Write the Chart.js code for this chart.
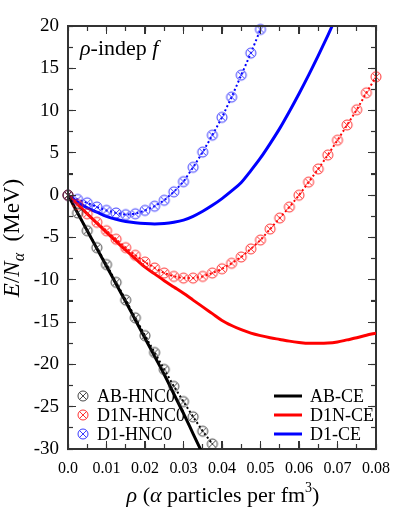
<!DOCTYPE html>
<html><head><meta charset="utf-8">
<script src="https://cdn.jsdelivr.net/npm/chart.js@4"></script>
<style>html,body{margin:0;padding:0;background:#fff;}canvas{display:block}
#wrap{position:relative;width:395px;height:517px}
#overlay{position:absolute;left:0;top:0;width:395px;height:517px;pointer-events:none}
#overlay div{position:absolute;background:#333333}
</style>
</head><body>
<div id="wrap">
<canvas id="c" width="395" height="517"></canvas>
<div id="overlay"></div>
</div>
<script>
// density grid (alpha particles per fm^3)
const rhoGrid = [0,0.0025,0.005,0.0075,0.01,0.0125,0.015,0.0175,0.02,0.0225,0.025,0.0275,0.03,0.0325,0.035,0.0375,0.04,0.0425,0.045,0.0475,0.05,0.0525,0.055,0.0575,0.06,0.0625,0.065,0.0675,0.07,0.0725,0.075,0.0775,0.08];
// HNC0 series (markers + dotted lines)
const abHNC0  = [0,-2.1,-4.2,-6.2,-8.2,-10.3,-12.4,-14.5,-16.6,-18.6,-20.6,-22.6,-24.4,-26.2,-27.9,-29.4];
const d1nHNC0 = [0,-1.1,-2.2,-3.2,-4.2,-5.2,-6.2,-7.1,-7.9,-8.6,-9.2,-9.6,-9.8,-9.8,-9.6,-9.2,-8.7,-8.05,-7.3,-6.35,-5.3,-4.0,-2.7,-1.4,0.0,1.55,3.1,4.75,6.5,8.3,10.1,12.1,14.0];
const d1HNC0  = [0,-0.5,-0.9,-1.4,-1.8,-2.1,-2.3,-2.2,-1.8,-1.3,-0.6,0.4,1.6,3.3,5.1,7.1,9.2,11.6,14.2,16.8,19.6];
// CE series (solid lines)
const abCE  = [0,-2.1,-4.2,-6.3,-8.4,-10.5,-12.6,-14.75,-16.9,-19.05,-21.2,-23.5,-25.8,-28.2,-30.6];
const d1nCE = [0,-1.1,-2.2,-3.3,-4.4,-5.45,-6.5,-7.5,-8.5,-9.3,-10.1,-10.85,-11.6,-12.4,-13.2,-14.0,-14.8,-15.4,-15.9,-16.3,-16.6,-16.85,-17.05,-17.25,-17.4,-17.5,-17.5,-17.48,-17.35,-17.1,-16.85,-16.55,-16.3];
const d1CE  = [0,-0.8,-1.5,-2.0,-2.5,-2.85,-3.1,-3.25,-3.35,-3.4,-3.35,-3.2,-2.95,-2.5,-1.9,-1.2,-0.4,0.5,1.5,2.9,4.4,6.1,7.9,9.9,12.0,14.2,16.5,18.9,21.4];
// tick labels
const xTickLabels = ['0.0','0.01','0.02','0.03','0.04','0.05','0.06','0.07','0.08'];
const yTicks = [-30,-25,-20,-15,-10,-5,0,5,10,15,20];
const yMinorTicks = [-27.5,-22.5,-17.5,-12.5,-7.5,-2.5,2.5,7.5,12.5,17.5];

const SERIF = '"Liberation Serif","Times New Roman",serif';
const AXIS = '#333333';

function makeMarker(color){
  const c = document.createElement('canvas');
  c.width = 14; c.height = 14;
  const g = c.getContext('2d');
  g.strokeStyle = color; g.lineWidth = 1;
  g.beginPath(); g.arc(7,7,5,0,Math.PI*2); g.stroke();
  const d = 3.5;
  g.beginPath(); g.moveTo(7-d,7-d); g.lineTo(7+d,7+d); g.moveTo(7+d,7-d); g.lineTo(7-d,7+d); g.stroke();
  return c;
}
const mkBlack = makeMarker('rgba(40,40,40,0.85)');
const mkRed = makeMarker('rgba(255,30,30,0.9)');
const mkBlue = makeMarker('rgba(40,40,255,0.9)');

const pts = arr => arr.map((v,i)=>({x: rhoGrid[i], y: v}));

const datasets = [
  {label:'AB-HNC0', data: pts(abHNC0), borderColor:'#000', borderWidth:2, borderDash:[2,2.5], pointStyle: mkBlack, pointRadius:5, clip:false, order:1, kind:'hnc', marker: mkBlack},
  {label:'D1N-HNC0', data: pts(d1nHNC0), borderColor:'#ff0000', borderWidth:2, borderDash:[2,2.5], pointStyle: mkRed, pointRadius:5, clip:false, order:1, kind:'hnc', marker: mkRed},
  {label:'D1-HNC0', data: pts(d1HNC0), borderColor:'#0000ff', borderWidth:2, borderDash:[2,2.5], pointStyle: mkBlue, pointRadius:5, clip:false, order:1, kind:'hnc', marker: mkBlue},
  {label:'AB-CE', data: pts(abCE), borderColor:'#000', borderWidth:3, pointRadius:0, cubicInterpolationMode:'monotone', order:2, kind:'ce'},
  {label:'D1N-CE', data: pts(d1nCE), borderColor:'#ff0000', borderWidth:3, pointRadius:0, cubicInterpolationMode:'monotone', order:2, kind:'ce'},
  {label:'D1-CE', data: pts(d1CE), borderColor:'#0000ff', borderWidth:3, pointRadius:0, cubicInterpolationMode:'monotone', order:2, kind:'ce'}
];

function drawParts(ctx, parts, x, y, align){
  let total = 0;
  parts.forEach(p=>{ctx.font = p.font; p.w = ctx.measureText(p.t).width; total += p.w;});
  let cx = align==='center' ? x - total/2 : x;
  parts.forEach(p=>{ctx.font = p.font; ctx.fillText(p.t, cx, y + (p.dy||0)); cx += p.w;});
}

const textPlugin = {
  id:'texts',
  afterDraw(chart){
    const ctx = chart.ctx;
    ctx.save();
    ctx.fillStyle = '#000';
    ctx.textBaseline = 'alphabetic';
    ctx.textAlign = 'left';
    drawParts(ctx, [
      {t:'\u03C1', font:'italic 22px '+SERIF},
      {t:'-indep ', font:'22px '+SERIF},
      {t:'f', font:'italic 22px '+SERIF}
    ], 80, 55, 'left');

    // x title
    drawParts(ctx, [
      {t:'\u03C1', font:'italic 22px '+SERIF},
      {t:' (', font:'22px '+SERIF},
      {t:'\u03B1', font:'italic 22px '+SERIF},
      {t:' particles per fm', font:'22px '+SERIF},
      {t:'3', font:'14px '+SERIF, dy:-10},
      {t:')', font:'22px '+SERIF}
    ], 223, 502, 'center');

    // y title
    ctx.save();
    ctx.translate(19, 238);
    ctx.rotate(-Math.PI/2);
    drawParts(ctx, [
      {t:'E', font:'italic 23px '+SERIF},
      {t:'/', font:'23px '+SERIF},
      {t:'N', font:'italic 23px '+SERIF},
      {t:'\u03B1', font:'italic 16px '+SERIF, dy:5},
      {t:'  (MeV)', font:'23px '+SERIF}
    ], 0, 0, 'center');
    ctx.restore();

    // legends
    const rows = [396, 415, 434];
    const hnc = chart.data.datasets.filter(d=>d.kind==='hnc');
    const ce = chart.data.datasets.filter(d=>d.kind==='ce');
    ctx.font = '18px '+SERIF;
    hnc.forEach((d,i)=>{
      ctx.drawImage(d.marker, 83-7, rows[i]-7);
      ctx.fillStyle = '#000';
      ctx.fillText(d.label, 97, rows[i]+6);
    });
    ce.forEach((d,i)=>{
      ctx.fillStyle = d.borderColor;
      ctx.fillRect(274, rows[i]-1.5, 28, 3);
      ctx.fillStyle = '#000';
      ctx.fillText(d.label, 310, rows[i]+6);
    });
    ctx.restore();
  }
};

const gridTicks = {display:true, drawOnChartArea:false, drawTicks:true, tickLength:-5, tickWidth:1.2, tickColor:AXIS, color:AXIS, lineWidth:1};
const borderOpt = {display:true, color:AXIS, width:1.5};
const allYTicks = yTicks.concat(yMinorTicks).sort((a,b)=>a-b);

const chart = new Chart(document.getElementById('c'), {
  type:'line',
  data:{datasets},
  options:{
    responsive:false, animation:false, events:[],
    layout:{padding:{top:26, right:19, left:0, bottom:0}},
    plugins:{legend:{display:false}, tooltip:{enabled:false}},
    elements:{line:{tension:0, fill:false}},
    scales:{
      x:{type:'linear', position:'bottom', min:0, max:0.08,
         afterFit: s => { s.height = 68; s.paddingLeft = 0; s.paddingRight = 0; },
         grid: gridTicks, border: borderOpt,
         ticks:{stepSize:0.005, autoSkip:false, maxRotation:0, padding:15, color:'#000',
                font:{family:SERIF, size:16},
                callback:(v)=>{ const k = Math.round(v/0.005); return k%2===0 ? xTickLabels[k/2] : ''; }}},
      x2:{type:'linear', position:'top', min:0, max:0.08,
         afterFit: s => { s.height = 0; s.paddingLeft = 0; s.paddingRight = 0; },
         grid: gridTicks, border: borderOpt,
         ticks:{display:false, stepSize:0.005, autoSkip:false}},
      y:{type:'linear', position:'left', min:-30, max:20,
         afterFit: s => { s.width = 68; s.paddingTop = 0; s.paddingBottom = 0; },
         grid: gridTicks, border: borderOpt,
         afterBuildTicks: s => { s.ticks = allYTicks.map(v=>({value:v})); },
         ticks:{padding:14, autoSkip:false, color:'#000', font:{family:SERIF, size:19},
                callback:(v)=> yTicks.includes(v) ? String(v) : ''}},
      y2:{type:'linear', position:'right', min:-30, max:20,
         afterFit: s => { s.width = 0; s.paddingTop = 0; s.paddingBottom = 0; },
         grid: gridTicks, border: borderOpt,
         afterBuildTicks: s => { s.ticks = allYTicks.map(v=>({value:v})); },
         ticks:{display:false, autoSkip:false}}
    }
  },
  plugins:[textPlugin]
});

// frame and inward ticks as an overlay, positioned from the chart's own scales
(function(){
  const ov = document.getElementById('overlay');
  const xs = chart.scales.x, ys = chart.scales.y;
  const L = xs.getPixelForValue(0), R = xs.getPixelForValue(0.08);
  const T = ys.getPixelForValue(20), B = ys.getPixelForValue(-30);
  function box(l,t,w,h){
    const d = document.createElement('div');
    d.style.left = l+'px'; d.style.top = t+'px'; d.style.width = w+'px'; d.style.height = h+'px';
    ov.appendChild(d);
  }
  box(L-1, T-1, R-L+2, 1.5);
  box(L-1, B-0.5, R-L+2, 1.5);
  box(L-1, T-1, 1.5, B-T+2);
  box(R-0.5, T-1, 1.5, B-T+2);
  for (let i=1;i<16;i++){
    const px = xs.getPixelForValue(i*0.005);
    const len = i%2===0 ? 8 : 5;
    box(px-0.6, B-len, 1.2, len);
    box(px-0.6, T, 1.2, len);
  }
  allYTicks.forEach(v=>{
    if (v===-30 || v===20) return;
    const py = ys.getPixelForValue(v);
    const len = yTicks.includes(v) ? 8 : 5;
    box(L, py-0.6, len, 1.2);
    box(R-len, py-0.6, len, 1.2);
  });
})();
</script>
</body></html>
